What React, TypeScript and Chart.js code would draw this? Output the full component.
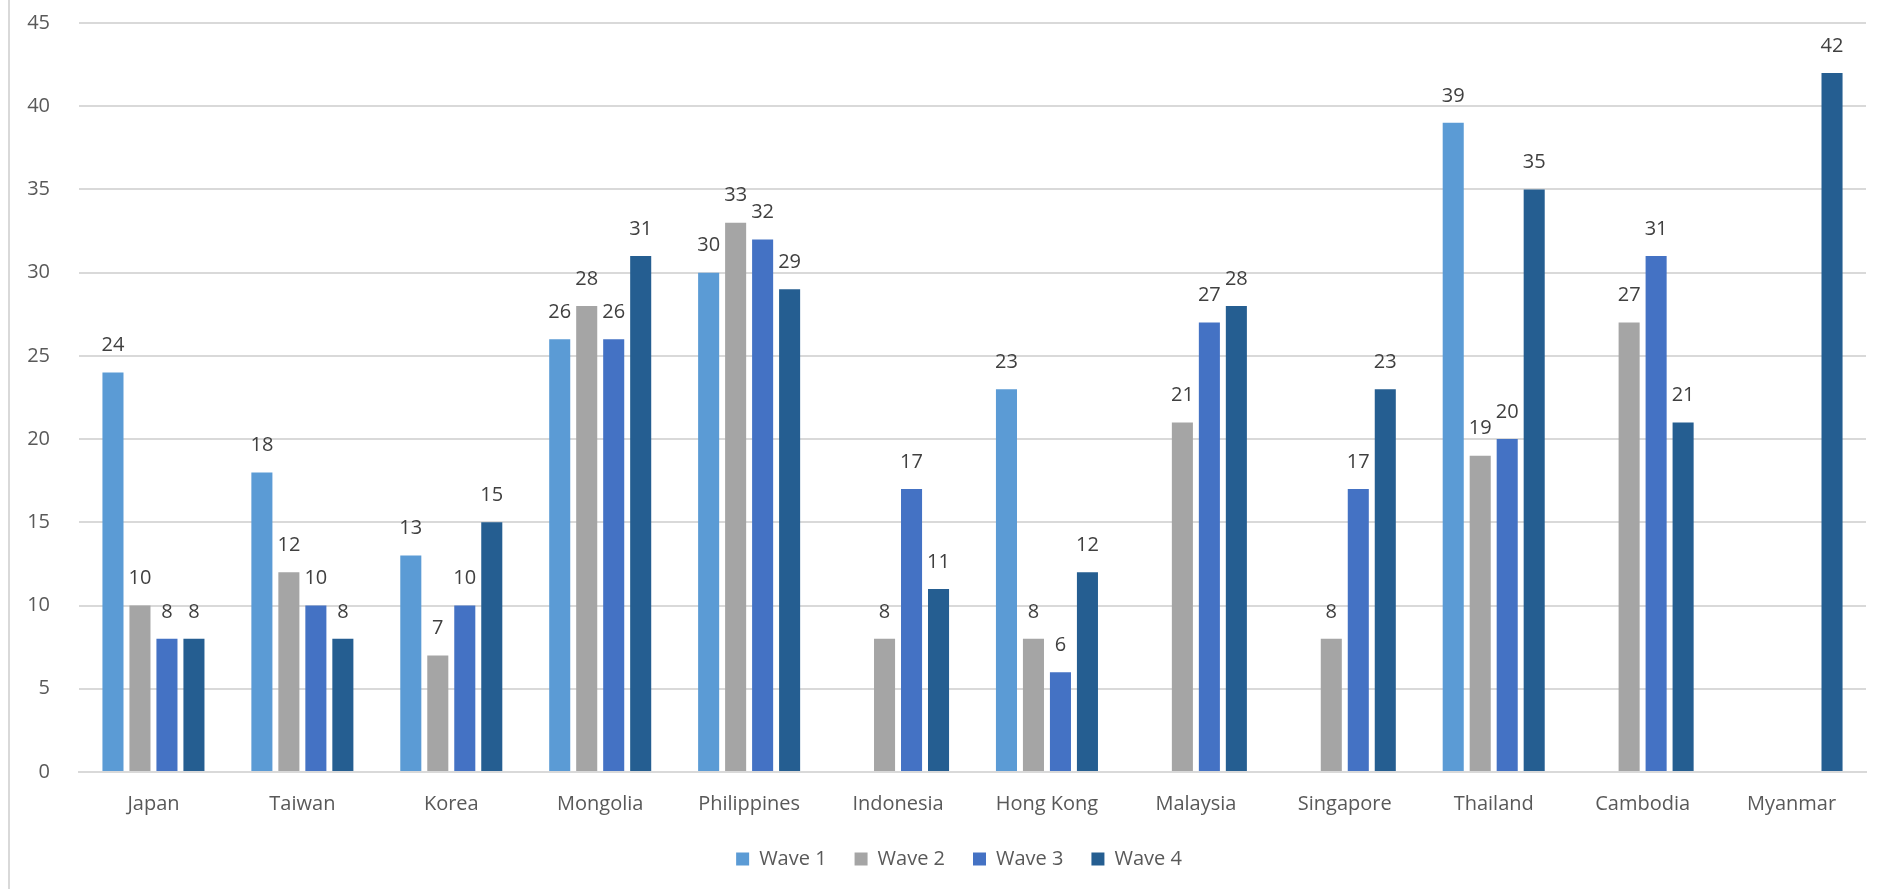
import React, { useEffect, useRef } from "react";
import { Chart, registerables } from "chart.js";

Chart.register(...registerables);

const categories = ["Japan", "Taiwan", "Korea", "Mongolia", "Philippines", "Indonesia", "Hong Kong", "Malaysia", "Singapore", "Thailand", "Cambodia", "Myanmar"];
const wave1 = [24, 18, 13, 26, 30, null, 23, null, null, 39, null, null];
const wave2 = [10, 12, 7, 28, 33, 8, 8, 21, 8, 19, 27, null];
const wave3 = [8, 10, 10, 26, 32, 17, 6, 27, 17, 20, 31, null];
const wave4 = [8, 8, 15, 31, 29, 11, 12, 28, 23, 35, 21, 42];
const seriesNames = ["Wave 1", "Wave 2", "Wave 3", "Wave 4"];
const seriesColors = ["#5B9BD5", "#A5A5A5", "#4472C4", "#255E91"];
const yTicks = [0, 5, 10, 15, 20, 25, 30, 35, 40, 45];

const FONT = "'Open Sans', sans-serif";

const dataLabelPlugin = {
  id: "dataLabels",
  afterDatasetsDraw(chart: any) {
    const ctx = chart.ctx;
    ctx.save();
    ctx.font = `20px ${FONT}`;
    ctx.fillStyle = "#404040";
    ctx.textAlign = "center";
    ctx.textBaseline = "bottom";
    chart.data.datasets.forEach((ds: any, di: number) => {
      const meta = chart.getDatasetMeta(di);
      meta.data.forEach((el: any, i: number) => {
        const v = ds.data[i];
        if (v === null || v === undefined) return;
        ctx.fillText(String(v), el.x, el.y - 17);
      });
    });
    ctx.restore();
  },
};

const legendShiftPlugin = {
  id: "legendShift",
  afterLayout(chart: any) {
    if (chart.legend) {
      chart.legend.left += 26;
      chart.legend.right += 26;
    }
  },
};

export default function App() {
  const ref = useRef<HTMLCanvasElement>(null);
  useEffect(() => {
    const all = [wave1, wave2, wave3, wave4];
    const chart = new Chart(ref.current!, {
      type: "bar",
      data: {
        labels: categories,
        datasets: all.map((d, i) => ({
          label: seriesNames[i],
          data: d,
          backgroundColor: seriesColors[i],
          borderWidth: 0,
          barPercentage: 0.78,
          categoryPercentage: 0.725,
        })),
      },
      options: {
        animation: false,
        responsive: false,
        devicePixelRatio: 1,
        layout: { padding: { top: 23, right: 15, left: 0, bottom: 10 } },
        plugins: {
          legend: {
            position: "bottom",
            labels: {
              font: { family: FONT, size: 20 },
              color: "#595959",
              boxWidth: 13,
              boxHeight: 13,
              padding: 28,
            },
          },
          tooltip: { enabled: false },
        },
        scales: {
          x: {
            grid: { display: false, drawTicks: false },
            border: { color: "#d9d9d9", width: 2 },
            ticks: { font: { family: FONT, size: 20 }, color: "#595959", padding: 20, maxRotation: 0 },
            afterFit: (s: any) => { s.height = s.height - 15; },
          },
          y: {
            min: 0,
            max: 45,
            afterBuildTicks: (s: any) => { s.ticks = yTicks.map((v) => ({ value: v })); },
            afterFit: (s: any) => { s.width = 79; },
            grid: { color: "#d9d9d9", lineWidth: 2, drawTicks: true, tickLength: 29, tickColor: "rgba(0,0,0,0)" },
            border: { display: false },
            ticks: { font: { family: FONT, size: 20 }, color: "#595959", padding: 0 },
          },
        },
      },
      plugins: [dataLabelPlugin, legendShiftPlugin],
    } as any);
    return () => chart.destroy();
  }, []);
  return (
    <div style={{ position: "absolute", left: 0, top: 0, width: 1881, height: 889, background: "#fff" }}>
      <div style={{ position: "absolute", left: 8, top: 0, width: 2, height: 889, background: "#d9d9d9" }} />
      <canvas ref={ref} width={1881} height={889} style={{ position: "absolute", left: 0, top: 0 }} />
    </div>
  );
}
